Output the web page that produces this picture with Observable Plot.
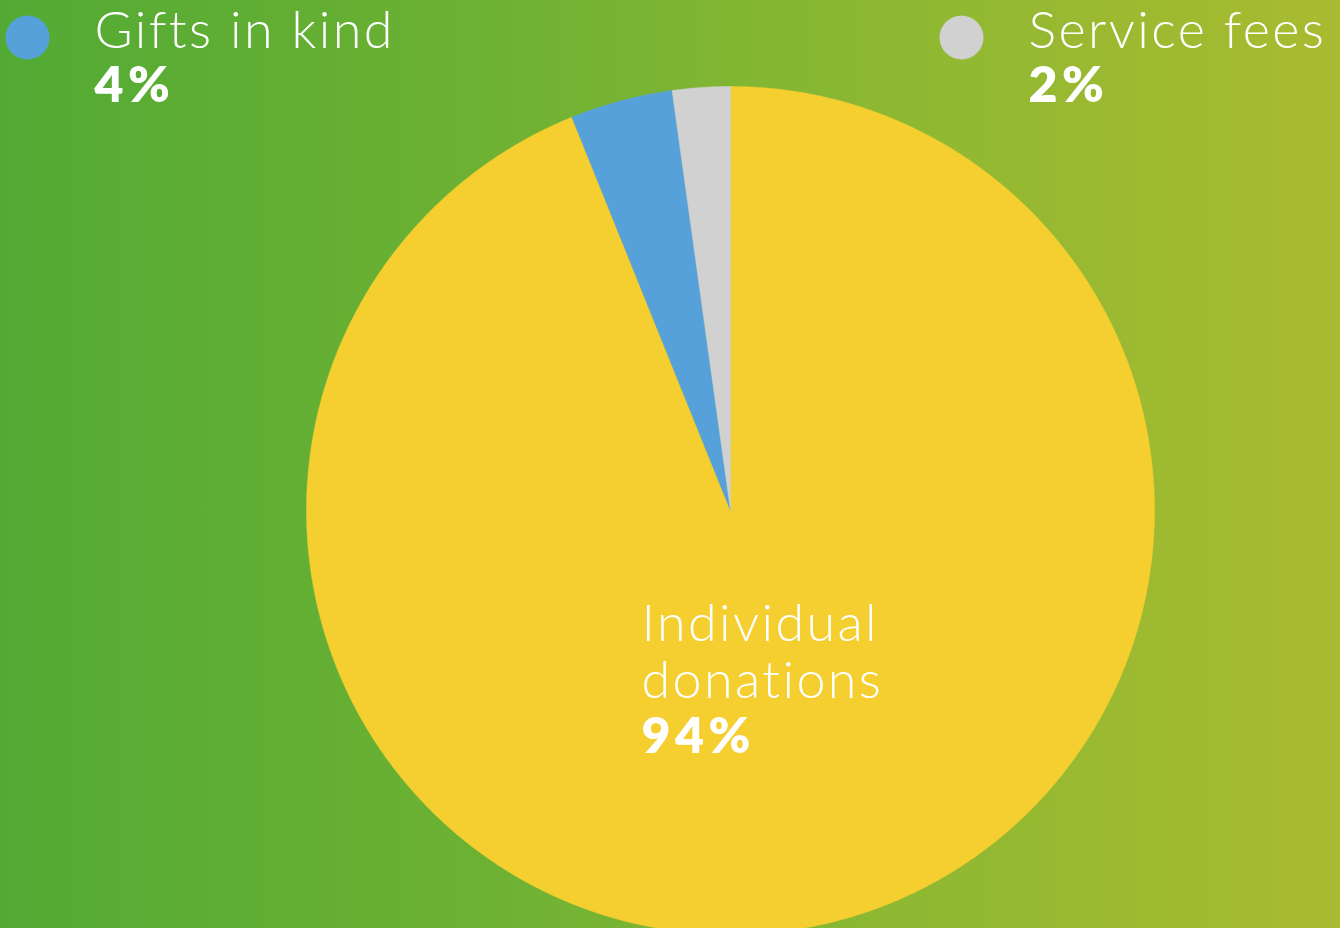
<!DOCTYPE html>
<html>
<head>
<meta charset="utf-8">
<script src="https://cdn.jsdelivr.net/npm/d3@7"></script>
<script src="https://cdn.jsdelivr.net/npm/@observablehq/plot@0.6"></script>
<style>
  html, body { margin: 0; padding: 0; }
  body {
    width: 1340px; height: 928px; overflow: hidden;
    background: linear-gradient(to right, #52aa34 0%, #6cb133 35%, #8cb832 65%, #a9bb30 100%);
  }
  #chart svg { display: block; }
  #chart svg text { font-variant-ligatures: none; font-feature-settings: "liga" 0; }
</style>
</head>
<body>
<div id="chart"></div>
<script>
// ---- data ----
const categories = ["Individual donations", "Gifts in kind", "Service fees"];
const shares = [93.9, 3.9, 2.2];   // slice sizes
const colors = ["#f5ce30", "#56a1d9", "#d1d1d1"];
const labelTitles = ["Individual\ndonations", "Gifts in kind", "Service fees"];
const labelValues = ["94%", "4%", "2%"];

// ---- layout ----
const W = 1340, H = 928;
const cx = 730, cy = 510, R = 424;

const arcs = d3.pie().sort(null).value(d => d.v)(categories.map((c, i) => ({c, v: shares[i]})));
const slicePts = [];
arcs.forEach(a => {
  const n = Math.max(2, Math.ceil((a.endAngle - a.startAngle) / 0.005));
  slicePts.push({c: a.data.c, x: cx, y: cy});
  for (let k = 0; k <= n; k++) {
    const t = a.startAngle + (a.endAngle - a.startAngle) * k / n;
    slicePts.push({c: a.data.c, x: cx + R * Math.sin(t), y: cy - R * Math.cos(t)});
  }
});

// label placement (layout)
const labelPos = [
  {x: 641, y1: 697, y2: 752},   // inside pie
  {x: 94,  y1: 47,  y2: 101, dotX: 27},
  {x: 1028, y1: 47, y2: 101, dotX: 961}
];
const titles = categories.map((c, i) => ({c, t: labelTitles[i], x: labelPos[i].x, y: labelPos[i].y1}));
const vals = categories.map((c, i) => ({c, t: labelValues[i], x: labelPos[i].x, y: labelPos[i].y2}));
const dots = categories.map((c, i) => ({c, x: labelPos[i].dotX, y: 37})).filter(d => d.x != null);

const chart = Plot.plot({
  width: W, height: H,
  margin: 0,
  style: {background: "transparent", overflow: "hidden"},
  x: {domain: [0, W], range: [0, W], axis: null},
  y: {domain: [0, H], range: [0, H], axis: null},
  color: {domain: categories, range: colors},
  marks: [
    Plot.line(slicePts, {x: "x", y: "y", z: "c", fill: "c", stroke: "c", strokeWidth: 0.5, curve: "linear-closed"}),
    Plot.dot(dots, {x: "x", y: "y", r: 22, fill: "c"}),
    Plot.text(titles, {x: "x", y: "y", text: "t", textAnchor: "start", lineAnchor: "bottom",
      lineHeight: 1.08, fill: "white", fontSize: 52, fontWeight: 300, fontFamily: "Lato"}),
    Plot.text(vals, {x: "x", y: "y", text: "t", textAnchor: "start", lineAnchor: "bottom",
      fill: "white", fontSize: 50, fontWeight: 800, fontFamily: "Lato"})
  ]
});
// widen tracking to match the reference's geometric typeface
d3.select(chart).selectAll("text").each(function() {
  const el = d3.select(this);
  const bold = el.attr("font-weight") === "800" || this.parentNode.getAttribute("font-weight") === "800";
  const sp = bold ? 4.5 : 2.4;
  el.style("letter-spacing", sp + "px");
});
document.getElementById("chart").appendChild(chart);
</script>
</body>
</html>
